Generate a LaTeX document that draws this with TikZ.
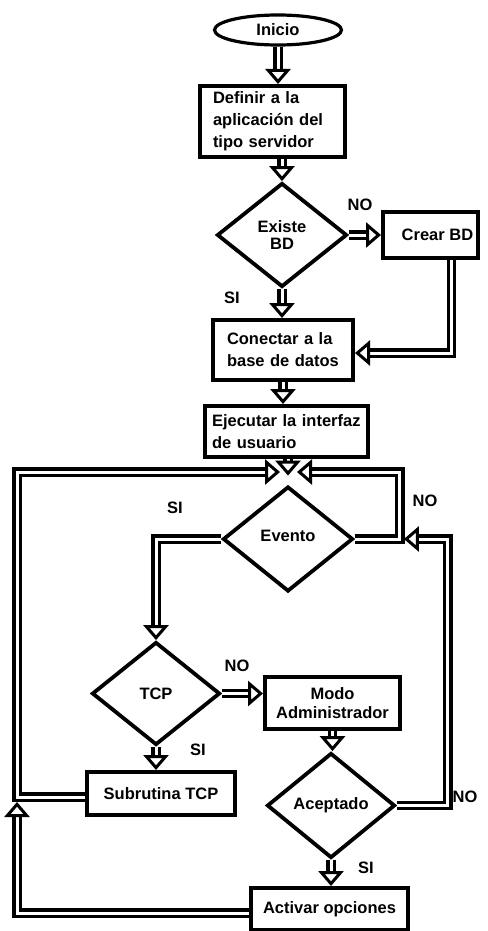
\documentclass[tikz,border=0pt]{standalone}
\usepackage{fontspec}
\setmainfont{Liberation Sans}
\usepackage{tikz}
\usetikzlibrary{shapes.geometric}
\usetikzlibrary{arrows.meta}
\usetikzlibrary{positioning}

\begin{document}
\begin{tikzpicture}[
    x=1pt, y=-1pt,
    % Text and outlines
    flow text/.style={font=\fontsize{16.5}{22}\selectfont\bfseries},
    terminal/.style={ellipse, draw, line width=3.2pt, flow text, inner sep=0pt},
    process/.style={rectangle, draw, line width=4pt, flow text, inner sep=0pt, align=center},
    left process/.style={process, align=left},
    decision/.style={diamond, draw, line width=3.8pt, flow text, inner sep=0pt, align=center},
    % Hollow double connectors
    flow line/.style={draw, line width=3.2pt, double=white, double distance=3pt,
      -{Triangle[open, fill=white, line width=3pt, length=15pt, width=25pt]}},
    branch label/.style={flow text}
  ]
  \useasboundingbox (0,0) rectangle (487,931);

  % --- Node Definitions ---
  \node[terminal, minimum width=127pt, minimum height=30pt] (inicio) at (278, 30) {Inicio};
  \node[left process, text width=119pt, inner xsep=13pt, minimum height=71pt] (definir) at (272.5, 121.5)
    {Definir a la\\aplicación del\\tipo servidor};
  \node[decision, minimum width=130pt, minimum height=104pt] (existe) at (282, 235) {Existe\\[-5pt]BD};
  \node[process, minimum width=95pt, minimum height=46pt] (crear) at (430.5, 235) {\hspace{14pt}Crear BD};
  \node[left process, text width=112pt, inner xsep=14pt, minimum height=60pt] (conectar) at (283, 350)
    {Conectar a la\\base de datos};
  \node[left process, text width=149pt, inner xsep=7pt, minimum height=51pt] (ejecutar) at (286.5, 431.5)
    {Ejecutar la interfaz\\de usuario};
  \node[decision, minimum width=130pt, minimum height=105pt] (evento) at (288, 539) {\raisebox{6pt}{Evento}};
  \node[decision, minimum width=128pt, minimum height=103pt] (tcp) at (156, 693.5) {TCP};
  \node[process, minimum width=135pt, minimum height=52pt] (modo) at (332.5, 703) {Modo\\[-3pt]Administrador};
  \node[process, minimum width=148pt, minimum height=43pt] (subrutina) at (161, 793.5) {Subrutina TCP};
  \node[decision, minimum width=128pt, minimum height=105pt] (aceptado) at (331, 805.5) {Aceptado};
  \node[process, minimum width=157pt, minimum height=42pt] (activar) at (329.5, 909) {Activar opciones};

  % --- Branch labels ---
  \node[branch label] (noexiste) at (360, 205) {NO};
  \node[branch label] (siexiste) at (232, 298) {SI};
  \node[branch label] (sievento) at (175, 508) {SI};
  \node[branch label] (noevento) at (425, 501) {NO};
  \node[branch label] (notcp) at (237, 666) {NO};
  \node[branch label] (sitcp) at (198, 750) {SI};
  \node[branch label] (noacept) at (465, 797) {NO};
  \node[branch label] (siacept) at (366, 868) {SI};

  % --- Junction points ---
  \coordinate (merge) at ([yshift=9pt]evento.north);
  \coordinate (inL) at (280, 472);
  \coordinate (inR) at (297, 472);
  \coordinate (noturn) at ([xshift=45pt]evento.east);
  \coordinate (cornerL) at (17, 797);

  % --- Edge Definitions ---
  \draw[flow line] (inicio.south) -- (inicio.south |- definir.north);
  \draw[flow line] (existe.north |- definir.south) -- (existe.north);
  \draw[flow line] (existe.east) -- (crear.west);
  \draw[flow line] (existe.south) -- (existe.south |- conectar.north);
  \draw[flow line] ([xshift=21pt]crear.south) |- ([yshift=-3pt]conectar.east);
  \draw[flow line] (conectar.south) -- (conectar.south |- ejecutar.north);
  \draw[flow line] (ejecutar.south -| merge) -- (merge);

  % Loops back to the event check
  \draw[flow line] (evento.east) -- (noturn) |- (inR);
  \draw[flow line] (subrutina.west |- cornerL) -- (cornerL) |- (inL);
  \draw[flow line] (aceptado.east) -- ([xshift=51pt]aceptado.east) |- ([xshift=4pt]noturn);

  % Event branches
  \draw[flow line] (evento.west) -| (tcp.north);
  \draw[flow line] (tcp.east) -- (tcp.east -| modo.west);
  \draw[flow line] (tcp.south) -- (tcp.south |- subrutina.north);
  \draw[flow line] (modo.south) -- (modo.south |- aceptado.north);
  \draw[flow line] (aceptado.south) -- (aceptado.south |- activar.north);
  \draw[flow line] ([yshift=-4pt]activar.west) -| ([yshift=-5pt]cornerL);

\end{tikzpicture}
\end{document}
